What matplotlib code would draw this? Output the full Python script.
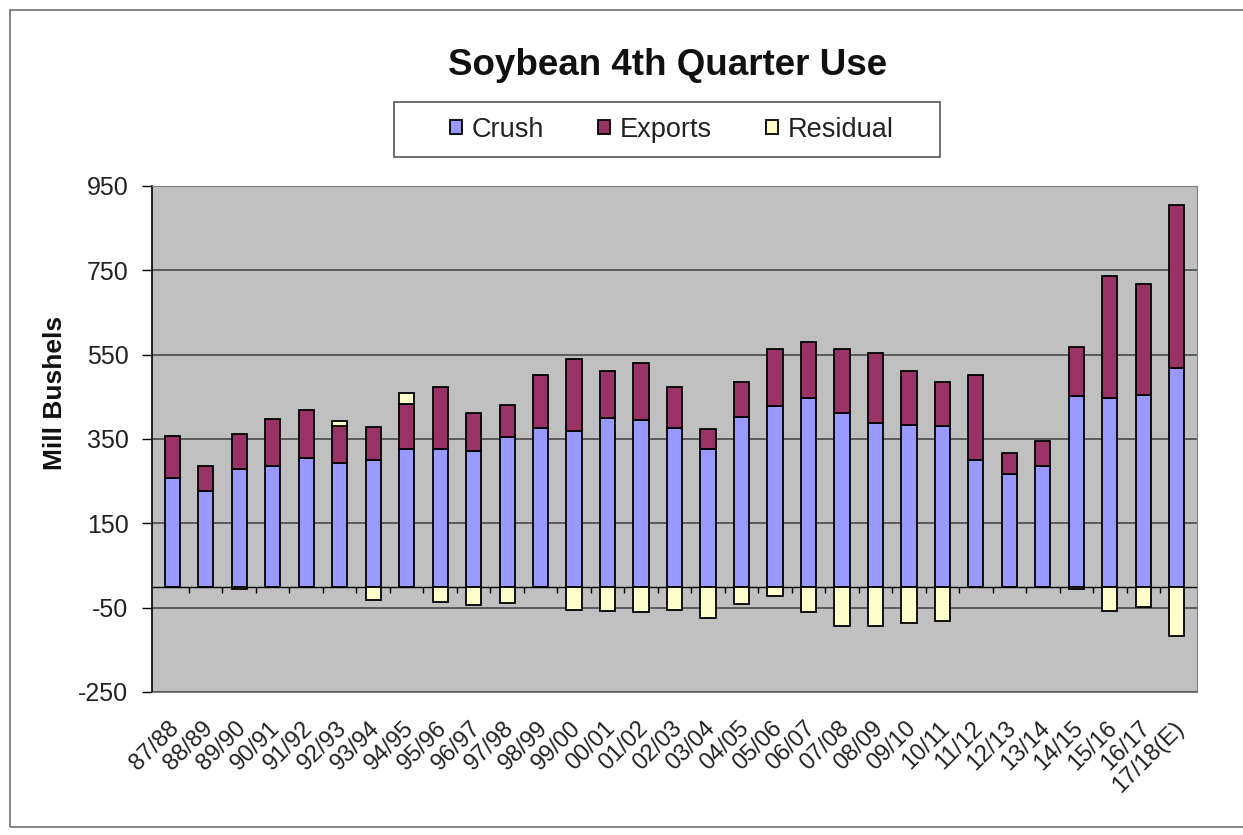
import matplotlib.pyplot as plt
import matplotlib.transforms as mtransforms
import numpy as np
from matplotlib.patches import Rectangle

plt.rcParams["font.family"] = ["Liberation Sans", "DejaVu Sans"]
plt.rcParams["axes.unicode_minus"] = False

# marketing years
years = [
    "87/88", "88/89", "89/90", "90/91", "91/92", "92/93", "93/94", "94/95",
    "95/96", "96/97", "97/98", "98/99", "99/00", "00/01", "01/02", "02/03",
    "03/04", "04/05", "05/06", "06/07", "07/08", "08/09", "09/10", "10/11",
    "11/12", "12/13", "13/14", "14/15", "15/16", "16/17", "17/18(E)",
]
# million bushels
crush = [258, 226, 279, 285, 305, 292, 299, 326, 326, 321, 355, 376, 370, 399,
         394, 376, 326, 402, 427, 446, 411, 388, 384, 380, 299, 267, 285, 451,
         447, 455, 518]
exports = [98, 59, 83, 112, 113, 88, 79, 107, 148, 90, 75, 125, 170, 113,
           137, 97, 48, 84, 136, 135, 152, 167, 126, 106, 203, 50, 61, 116,
           289, 263, 388]
residual = [0, 0, -5, -2, 0, 12, -31, 26, -37, -44, -39, -1, -55, -57,
            -61, -55, -75, -41, -22, -61, -94, -94, -87, -81, 0, 0, 0, -5,
            -57, -49, -118]

c_crush = "#9999FF"
c_exports = "#993366"
c_resid = "#FFFFCC"

fig = plt.figure(figsize=(12.43, 8.35), dpi=100)
ax = fig.add_axes([0.1223, 0.1713, 0.8407, 0.6060])
ax.set_facecolor("#C0C0C0")

x = np.arange(len(years))
crush = np.array(crush)
exports = np.array(exports)
residual = np.array(residual)
top = crush + exports
res_bottom = np.where(residual > 0, top, 0)

width = 0.45
kw = dict(width=width, edgecolor="black", linewidth=1.3, zorder=3)
ax.bar(x, crush, color=c_crush, label="Crush", **kw)
ax.bar(x, exports, bottom=crush, color=c_exports, label="Exports", **kw)
ax.bar(x, residual, bottom=res_bottom, color=c_resid, label="Residual", **kw)

ax.set_ylim(-250, 950)
ax.set_xlim(-0.6, len(years) - 0.4)
ax.set_yticks(np.arange(-250, 951, 200))
ax.yaxis.grid(True, color="#4a4a4a", linewidth=1.2, zorder=0)
ax.set_axisbelow(True)
ax.tick_params(axis="y", labelsize=18, direction="out", length=7, width=1,
               pad=10, labelcolor="#222222")
ax.axhline(0, color="black", linewidth=1.0, zorder=2)

# category labels at the bottom
ax.set_xticks(x)
ax.set_xticklabels(years, rotation=45, ha="right", rotation_mode="anchor",
                   fontsize=17, color="#222222")
ax.tick_params(axis="x", length=0, pad=18)
shift = mtransforms.ScaledTranslation(-4 / 100, 0, fig.dpi_scale_trans)
for lab in ax.get_xticklabels():
    lab.set_transform(lab.get_transform() + shift)

# small category separators on the zero line
zero_pos = (0 - ax.get_ylim()[0]) / (ax.get_ylim()[1] - ax.get_ylim()[0])
sec = ax.secondary_xaxis(zero_pos)
sec.set_xticks(x[:-1] + 0.5)
sec.tick_params(axis="x", direction="out", length=4, width=1, labelbottom=False,
                labeltop=False, bottom=True, top=False)
sec.xaxis.set_ticks_position("bottom")
sec.set_xticklabels([])
sec.spines["bottom"].set_visible(False)
sec.spines["top"].set_visible(False)

for side in ["top", "right", "bottom"]:
    ax.spines[side].set_color("#808080")
ax.spines["left"].set_color("black")
ax.spines["left"].set_linewidth(1.2)

fig.text(0.044, 0.53, "Mill Bushels", rotation=90, ha="center", va="center",
         fontsize=19, fontweight="bold", color="#111111")
fig.text(0.537, 0.922, "Soybean 4th Quarter Use", ha="center", va="center",
         fontsize=26.5, fontweight="bold", color="#111111")

# legend entries without frame, box drawn separately
leg = fig.legend(loc="center", bbox_to_anchor=(0.5406, 0.8446), ncol=3,
                 frameon=False, fontsize=19.5, handlelength=0.45,
                 handleheight=0.45, handletextpad=0.35, columnspacing=2.0,
                 borderpad=0.2)
for t in leg.get_texts():
    t.set_color("#222222")
fig.patches.append(Rectangle((394 / 1243, 1 - 157 / 835), 546 / 1243, 55 / 835,
                             transform=fig.transFigure, fill=False,
                             edgecolor="#555555", linewidth=1.2))

# outer chart border
fig.patches.append(Rectangle((0.008, 0.009), 1.0, 0.979, transform=fig.transFigure,
                             fill=False, edgecolor="#707070", linewidth=1.2))

fig.savefig("out.png", dpi=100)
